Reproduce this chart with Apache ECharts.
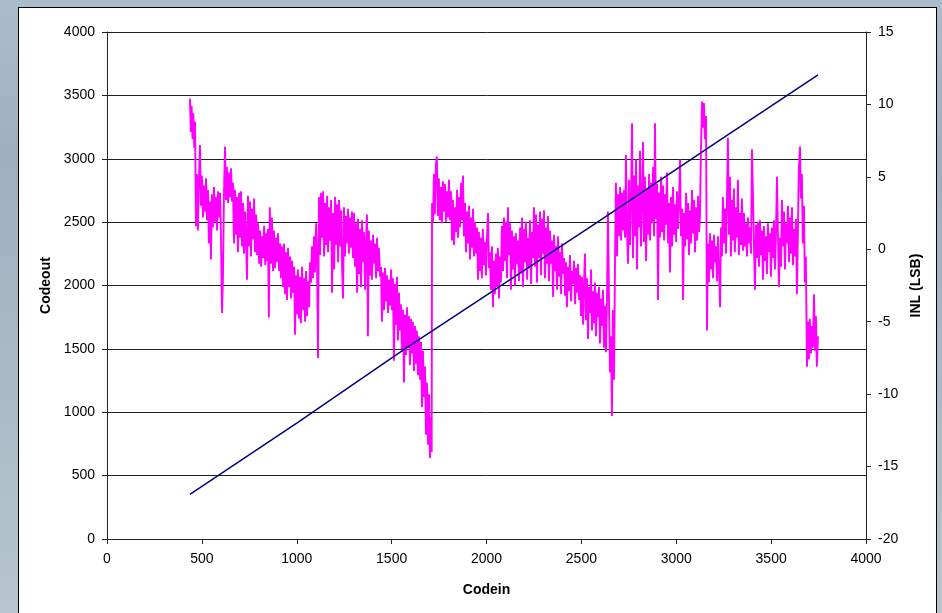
<!DOCTYPE html>
<html>
<head>
<meta charset="utf-8">
<script src="https://cdn.jsdelivr.net/npm/echarts@6/dist/echarts.min.js"></script>
<style>
  html, body { margin: 0; padding: 0; width: 942px; height: 613px; overflow: hidden; }
  #bg { position: absolute; left: 0; top: 0; width: 942px; height: 613px;
        background: linear-gradient(to bottom, #aabdcb 0%, #9db0be 25%, #a9bac6 60%, #b6c5cf 100%); }
  #panel { position: absolute; left: 18px; top: 7px; width: 919px; height: 640px;
           background: #ffffff; border: 1px solid #000000; box-sizing: border-box; }
  #chart { position: absolute; left: 0; top: 0; width: 942px; height: 613px; }
</style>
</head>
<body>
<div id="bg"></div>
<div id="panel"></div>
<div id="chart"></div>
<script>
// Transfer line: output code against input code
const transferCodein  = [437, 1000, 1570, 2585, 3200, 3747];
const transferCodeout = [352, 915, 1500, 2500, 3118, 3662];

// Integral non-linearity (LSB) against input code
const inlData = [
  [437,10.4],[442,8.1],[446,9.9],[451,7.6],[455,9.4],[460,7.0],[464,8.8],
  [469,1.6],[474,5.2],[479,1.3],[484,4.6],[490,7.2],
  [495,3.0],[500,5.1],[506,2.2],[511,4.4],[516,2.6],[522,4.9],[527,2.0],
  [532,4.1],[537,0.4],[543,3.3],[548,-0.7],[553,3.8],
  [558,1.5],[564,4.3],[569,1.9],[574,3.6],[580,1.3],[585,4.0],[590,2.2],[596,3.9],
  [601,0.5],[606,-4.4],[611,-2.0],[616,3.5],[622,7.1],
  [627,3.4],[632,5.7],[638,3.2],[643,5.3],[648,3.6],[654,5.6],[659,3.3],[664,4.6],
  [669,0.4],[675,4.1],[680,1.0],[685,3.6],[690,-0.2],[696,3.9],[701,0.8],[706,4.0],[712,0.2],[717,3.2],[722,-0.3],[728,2.6],[733,0.5],[738,-2.1],
  [743,3.7],[748,0.2],[754,3.3],[759,-0.5],[764,2.8],[770,0.7],[775,3.5],[780,-0.2],[786,2.4],[791,-0.4],
  [796,1.8],[802,-1.0],[807,1.3],[812,-1.2],[818,0.9],[823,-0.6],[828,1.6],[834,-1.1],[839,1.1],[844,-0.8],[848,1.4],
  [853,-4.7],[858,2.9],[864,-1.0],[869,2.2],[875,-1.5],
  [880,1.3],[885,-1.3],[891,0.8],[896,-0.9],[901,1.1],[907,-1.5],[912,0.4],[917,-2.0],[922,0.2],[928,-2.6],
  [933,0.4],[938,-3.1],[944,-0.2],[949,-3.5],[954,0.1],[959,-2.6],[965,-0.5],[970,-3.4],[975,-0.8],[980,-3.0],
  [986,-1.2],[991,-5.9],[996,-1.8],[1001,-4.5],
  [1006,-1.4],[1012,-4.8],[1017,-1.9],[1022,-5.1],[1028,-1.2],[1033,-4.2],[1038,-2.0],[1044,-5.0],[1049,-1.5],[1054,-4.6],[1059,-2.2],[1065,-4.0],[1070,-0.9],
  [1075,-2.3],[1080,0.2],[1086,-2.0],[1091,0.9],[1096,-1.6],[1102,1.8],[1107,-0.8],
  [1112,-7.5],[1117,3.6],[1123,-0.4],
  [1128,3.9],[1133,0.8],[1139,4.0],[1144,-0.5],[1149,3.2],[1155,0.3],[1160,3.7],[1165,-0.2],[1170,2.9],[1176,0.6],[1181,3.4],[1186,-3.0],[1191,2.5],
  [1197,-1.4],[1202,3.6],[1207,0.3],[1213,3.1],[1218,-0.9],[1223,3.4],[1228,0.2],[1234,2.7],[1239,-1.2],[1244,-3.4],
  [1249,2.9],[1254,-0.5],[1260,2.3],[1265,0.4],[1270,2.8],[1275,-0.3],[1281,2.2],[1286,0.1],[1291,2.6],[1296,-0.6],
  [1302,2.5],[1307,-1.2],[1312,1.8],[1318,-3.0],[1323,2.1],[1328,-1.7],[1333,1.4],[1339,-2.6],[1344,2.0],[1349,-0.9],[1354,1.2],[1360,-2.8],[1365,0.6],[1370,2.4],[1375,-6.0],
  [1380,1.3],[1386,-1.8],[1391,0.6],[1396,-2.1],[1402,1.0],[1407,-1.0],[1412,0.4],[1418,-2.0],[1423,0.8],[1428,-1.5],[1433,0.1],[1439,-1.9],
  [1444,-1.2],[1449,-5.0],[1454,-1.6],[1460,-4.2],[1465,-1.3],[1470,-3.6],[1476,-1.8],[1481,-4.4],[1486,-2.1],[1491,-3.9],[1497,-1.4],[1502,-4.2],[1507,-2.0],
  [1512,-7.7],[1518,-2.4],[1523,-5.2],[1528,-1.9],[1533,-6.3],[1539,-3.0],[1544,-5.6],
  [1549,-3.8],[1554,-6.9],[1560,-4.2],[1565,-9.2],[1570,-4.5],[1576,-7.3],[1581,-4.0],[1586,-6.8],[1591,-4.6],[1597,-8.0],[1602,-4.8],[1607,-7.2],[1612,-5.0],[1618,-8.4],[1623,-5.3],[1628,-7.9],[1633,-5.6],[1639,-8.7],[1644,-6.0],[1650,-9.0],
  [1655,-6.4],[1660,-10.9],[1665,-7.0],[1671,-10.2],[1676,-8.1],
  [1681,-12.8],[1686,-9.2],[1692,-13.5],[1697,-10.0],[1702,-14.4],[1707,-11.6],[1711,-14.0],[1713,3.2],
  [1718,1.9],[1723,5.2],[1728,2.4],[1733,5.8],[1738,6.4],[1744,2.3],
  [1749,4.9],[1754,2.0],[1760,4.3],[1765,1.8],[1770,4.7],[1776,2.6],[1781,4.5],[1786,1.9],[1791,4.0],[1797,2.2],[1802,4.8],[1808,2.0],
  [1813,4.0],[1818,0.6],[1823,3.4],[1829,0.3],[1834,2.9],[1839,1.2],[1845,4.1],[1850,0.8],[1855,3.6],[1860,1.5],[1866,4.6],[1871,2.0],[1876,5.1],
  [1881,0.9],[1887,3.2],[1892,-0.2],[1897,2.6],[1902,0.4],[1908,3.0],[1913,-0.7],[1918,2.2],[1924,0.1],[1929,2.8],[1934,-0.5],[1939,1.9],[1945,-0.3],[1950,1.5],
  [1955,-2.1],[1960,1.2],[1966,-1.5],[1971,0.8],[1976,-2.0],[1981,1.4],[1987,-1.1],[1992,0.5],[1997,-1.8],[2003,1.0],[2008,2.5],[2013,-1.3],[2018,-0.2],
  [2023,-2.8],[2029,0.2],[2034,-4.0],[2039,-0.8],[2044,-3.1],[2050,-0.3],[2055,-2.6],[2060,0.1],[2066,-3.4],[2071,-0.5],
  [2076,-2.3],[2081,1.6],[2087,-1.5],[2092,2.2],[2097,-0.8],[2102,1.9],[2108,-2.0],[2113,2.9],[2118,-0.4],[2124,1.8],
  [2129,-2.8],[2134,1.3],[2139,-1.4],[2145,0.9],[2150,-2.5],[2155,1.1],[2160,-1.0],[2166,0.6],[2171,-2.2],[2177,1.5],
  [2182,-1.6],[2187,2.2],[2192,-2.6],[2198,1.4],[2203,-0.9],[2208,1.9],[2214,-2.1],[2219,0.8],[2224,-1.3],[2229,2.0],[2235,-2.4],[2240,1.2],[2245,-0.6],
  [2250,2.9],[2256,-1.2],[2261,2.4],[2266,-2.3],[2271,1.7],[2277,-0.6],[2282,2.6],[2287,-1.8],[2293,2.1],[2298,-0.3],[2303,2.7],[2308,-2.0],[2314,1.5],[2319,-1.0],[2324,2.3],
  [2329,-2.2],[2335,1.3],[2340,-1.0],[2345,0.6],[2351,-3.3],[2356,1.0],[2361,-1.5],[2366,0.2],[2372,-2.8],[2377,0.9],[2382,-1.9],[2388,-0.2],[2393,-3.1],[2398,0.4],[2403,-1.7],
  [2409,-0.6],[2414,-3.2],[2419,-0.9],[2424,-4.0],[2430,-1.2],[2435,-2.9],[2440,-0.4],[2446,-3.6],[2451,-1.5],[2456,-2.4],[2461,-0.8],[2467,-3.8],[2472,-1.3],[2477,-3.0],[2482,-1.0],[2488,-3.5],[2493,-1.8],
  [2498,-4.6],[2503,-1.9],[2509,-5.2],[2514,-2.3],[2519,-0.3],[2524,-4.9],[2530,-2.0],[2535,-6.2],[2540,-2.6],[2545,-4.4],[2551,-1.4],[2556,-5.6],[2561,-2.9],
  [2566,-5.1],[2572,-2.3],[2577,-6.0],[2582,-3.0],[2588,-4.7],[2593,-2.6],[2598,-6.5],[2603,-3.4],[2609,-5.3],[2614,-2.8],[2619,-6.8],[2624,-3.9],[2630,-7.1],[2635,-3.5],
  [2640,2.6],[2646,-4.0],[2651,-8.5],
  [2656,-6.0],[2661,-11.5],[2666,-4.2],[2672,-9.0],[2677,-1.2],
  [2682,4.6],[2688,-0.5],[2693,3.8],[2698,0.9],[2704,4.3],
  [2709,0.6],[2714,3.9],[2720,1.3],[2725,4.1],[2730,0.8],[2735,6.5],[2740,1.5],
  [2746,-1.0],[2751,4.8],[2756,0.3],[2762,3.7],[2767,8.7],[2772,-0.6],
  [2777,5.1],[2783,0.9],[2788,6.2],[2793,-1.4],[2799,4.4],[2804,1.5],[2809,6.8],[2814,0.2],[2820,3.6],[2825,7.4],[2830,0.5],[2835,5.0],[2841,-0.8],[2846,4.2],
  [2851,1.0],[2857,5.2],[2862,0.6],[2867,4.6],[2872,1.8],[2878,5.7],[2883,0.9],[2888,8.7],[2893,2.1],[2899,4.5],[2904,-3.5],[2909,3.9],[2914,0.8],
  [2920,5.0],[2925,1.2],[2930,4.4],[2936,0.6],[2941,3.8],[2946,1.7],[2951,5.3],[2957,0.4],[2962,3.2],[2967,-1.6],
  [2972,3.6],[2978,0.2],[2983,4.3],[2988,1.0],[2993,3.1],[2999,0.5],[3004,4.0],[3009,1.4],[3015,3.5],[3020,6.2],[3025,0.9],[3031,2.8],[3036,-3.5],
  [3041,2.5],[3046,0.2],[3052,3.9],[3057,0.7],[3062,3.2],[3067,-0.4],[3073,2.7],[3078,0.4],[3083,4.1],[3089,1.1],[3094,3.4],[3099,-0.2],[3104,2.9],[3110,0.6],[3115,3.7],[3120,1.2],[3125,2.2],
  [3130,6.8],[3136,10.2],[3141,8.4],[3146,10.1],[3151,7.6],[3157,9.2],[3162,-5.6],
  [3167,0.4],[3172,-2.3],[3178,1.1],[3183,-1.4],[3188,0.6],[3194,-2.0],[3199,1.0],[3204,-0.9],[3209,0.2],[3215,-2.2],[3220,0.9],[3225,-1.2],[3231,-4.0],
  [3236,1.5],[3241,-0.5],[3246,3.6],[3252,0.4],[3257,2.8],[3262,-0.3],[3267,3.2],
  [3272,7.7],[3278,1.0],[3283,5.0],
  [3288,-0.5],[3294,3.4],[3299,0.6],[3304,4.2],[3309,-0.2],[3315,2.9],[3320,0.8],[3325,4.8],[3330,-0.4],[3336,2.5],[3341,0.3],[3346,3.5],[3352,-0.1],
  [3357,2.5],[3362,0.2],[3367,1.8],[3373,-0.5],[3378,2.2],[3383,0.4],[3388,1.5],[3394,-0.3],[3399,6.9],
  [3404,4.0],[3409,0.5],[3415,-2.8],[3420,1.7],[3425,-0.6],[3431,1.9],
  [3436,-1.2],[3441,2.0],[3446,-0.4],[3452,1.3],[3457,-2.1],[3462,1.6],[3467,-0.8],[3473,0.9],[3478,-1.7],[3483,1.8],[3488,-0.2],[3494,1.1],[3499,-1.9],[3504,1.5],[3509,-0.6],[3515,2.0],[3520,-1.4],[3525,0.7],[3531,5.0],
  [3536,1.0],[3541,-2.6],[3547,0.8],
  [3552,-1.2],[3557,3.4],[3562,0.2],[3568,2.6],[3573,-1.4],[3578,1.8],[3583,0.4],[3589,3.0],[3594,-0.9],[3599,2.2],[3604,-0.3],[3610,2.9],[3615,-1.1],[3620,1.4],[3625,-0.5],[3631,2.1],[3636,-3.1],[3641,1.0],[3646,5.5],[3652,7.1],
  [3657,3.5],[3662,5.2],[3667,0.4],[3673,3.0],[3678,-2.3],[3683,-0.5],[3689,-8.1],
  [3694,-5.0],[3699,-7.6],[3704,-4.8],[3710,-7.2],[3715,-5.3],[3720,-6.8],[3726,-3.1],[3731,-7.0],[3736,-4.6],[3741,-8.1],[3747,-6.0]
];

const transferData = transferCodein.map((c, i) => [c, transferCodeout[i]]);

const fontFamily = '"Liberation Sans", Arial, sans-serif';
const plainNumber = v => String(v);
const labelStyle = { color: '#000', fontSize: 14, fontFamily: fontFamily, formatter: plainNumber };
const titleStyle = { color: '#000', fontSize: 14, fontWeight: 'bold', fontFamily: fontFamily };
const lineStyle = { color: '#222', width: 1 };

const chart = echarts.init(document.getElementById('chart'), null, { renderer: 'canvas' });
chart.setOption({
  animation: false,
  backgroundColor: 'transparent',
  grid: { left: 107, right: 76, top: 32, bottom: 74, containLabel: false },
  xAxis: {
    type: 'value', min: 0, max: 4000, interval: 500,
    name: 'Codein', nameLocation: 'middle', nameGap: 44, nameTextStyle: titleStyle,
    axisLine: { show: true, lineStyle: lineStyle },
    axisTick: { show: true, inside: false, length: 5, lineStyle: lineStyle },
    axisLabel: Object.assign({ margin: 13 }, labelStyle),
    splitLine: { show: false }
  },
  yAxis: [
    {
      type: 'value', min: 0, max: 4000, interval: 500, position: 'left',
      name: 'Codeout', nameLocation: 'middle', nameGap: 54, nameTextStyle: titleStyle,
      axisLine: { show: true, lineStyle: lineStyle },
      axisTick: { show: true, inside: false, length: 5, lineStyle: lineStyle },
      axisLabel: Object.assign({ margin: 12 }, labelStyle),
      splitLine: { show: true, lineStyle: { color: '#1e1e1e', width: 1 } }
    },
    {
      type: 'value', min: -20, max: 15, interval: 5, position: 'right',
      name: 'INL (LSB)', nameLocation: 'middle', nameGap: 42, nameRotate: 90, nameTextStyle: titleStyle,
      axisLine: { show: true, lineStyle: lineStyle },
      axisTick: { show: true, inside: false, length: 5, lineStyle: lineStyle },
      axisLabel: Object.assign({ margin: 12 }, labelStyle),
      splitLine: { show: false }
    }
  ],
  series: [
    {
      name: 'INL', type: 'line', yAxisIndex: 1, data: inlData,
      showSymbol: false, symbol: 'none', smooth: false,
      lineStyle: { color: '#ff00ff', width: 1.9 }
    },
    {
      name: 'Codeout', type: 'line', yAxisIndex: 0, data: transferData,
      showSymbol: false, symbol: 'none',
      lineStyle: { color: '#000080', width: 1.5 }
    }
  ]
});
</script>
</body>
</html>
